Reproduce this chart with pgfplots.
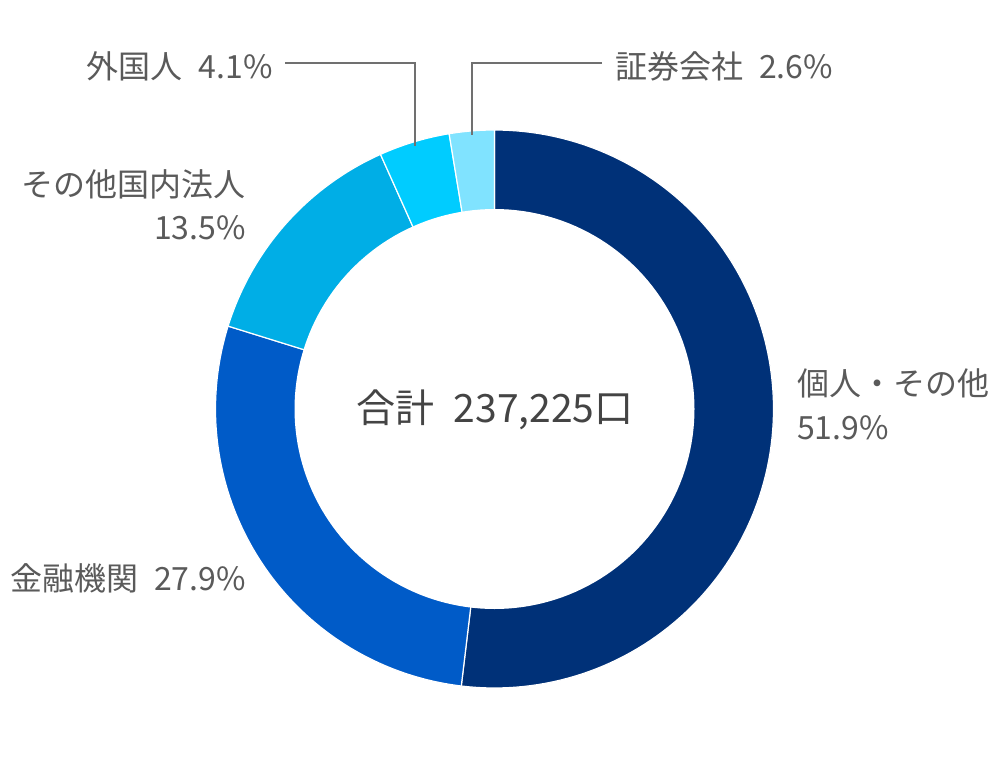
\documentclass[border=0pt]{standalone}
\usepackage{pgfplots}
\pgfplotsset{compat=1.18}
\usepackage{fontspec}
\setmainfont{Noto Sans CJK JP}
\definecolor{cNavy}{HTML}{003178}
\definecolor{cBlue}{HTML}{005BC8}
\definecolor{cSky}{HTML}{00AEE6}
\definecolor{cCyan}{HTML}{00CCFF}
\definecolor{cPale}{HTML}{80E3FF}
\definecolor{txt}{HTML}{5A5A5A}
\definecolor{ctr}{HTML}{444444}
\definecolor{lead}{HTML}{707070}
% data (percent)
\def\vA{51.9}\def\vB{27.9}\def\vC{13.5}\def\vD{4.1}\def\vE{2.6}
\pgfmathsetmacro\aA{0}
\pgfmathsetmacro\aB{\aA+3.6*\vA}
\pgfmathsetmacro\aC{\aB+3.6*\vB}
\pgfmathsetmacro\aD{\aC+3.6*\vC}
\pgfmathsetmacro\aE{\aD+3.6*\vD}
\pgfmathsetmacro\aF{\aE+3.6*\vE}
\def\cx{494.5}\def\cy{409}\def\Ro{279}\def\Ri{200}
\begin{document}
\begin{tikzpicture}
\path (0,0) rectangle (990pt,770pt);
\begin{axis}[
  scale only axis, width=990pt, height=770pt,
  xmin=0, xmax=990, ymin=0, ymax=770, y dir=reverse,
  hide axis, clip=false,
]
\addplot[fill=cNavy, draw=white, line width=1.2pt, domain=\aA:\aB, samples=120, variable=\t]
  ({\cx+\Ro*sin(\t)}, {\cy-\Ro*cos(\t)}) -- (axis cs:\cx,\cy) -- cycle;
\addplot[fill=cBlue, draw=white, line width=1.2pt, domain=\aB:\aC, samples=80, variable=\t]
  ({\cx+\Ro*sin(\t)}, {\cy-\Ro*cos(\t)}) -- (axis cs:\cx,\cy) -- cycle;
\addplot[fill=cSky, draw=white, line width=1.2pt, domain=\aC:\aD, samples=50, variable=\t]
  ({\cx+\Ro*sin(\t)}, {\cy-\Ro*cos(\t)}) -- (axis cs:\cx,\cy) -- cycle;
\addplot[fill=cCyan, draw=white, line width=1.2pt, domain=\aD:\aE, samples=20, variable=\t]
  ({\cx+\Ro*sin(\t)}, {\cy-\Ro*cos(\t)}) -- (axis cs:\cx,\cy) -- cycle;
\addplot[fill=cPale, draw=white, line width=1.2pt, domain=\aE:\aF, samples=20, variable=\t]
  ({\cx+\Ro*sin(\t)}, {\cy-\Ro*cos(\t)}) -- (axis cs:\cx,\cy) -- cycle;
\addplot[fill=white, draw=none, domain=0:360, samples=181, variable=\t]
  ({\cx+\Ri*sin(\t)}, {\cy-\Ri*cos(\t)}) -- cycle;
% leader lines
\draw[lead, line width=1.4pt] (axis cs:285,63) -- (axis cs:415,63) -- (axis cs:415,146);
\draw[lead, line width=1.4pt] (axis cs:602,63) -- (axis cs:472,63) -- (axis cs:472,135);
% labels
\begin{scope}[every node/.style={inner sep=0pt, text=txt, font=\fontsize{32}{38}\selectfont}]
\node[anchor=east] at (axis cs:273,66) {外国人\hspace{0.5em}4.1\%};
\node[anchor=west] at (axis cs:615,66) {証券会社\hspace{0.5em}2.6\%};
\node[anchor=east] at (axis cs:246,184) {その他国内法人};
\node[anchor=east] at (axis cs:246,228) {13.5\%};
\node[anchor=west] at (axis cs:797,383) {個人・その他};
\node[anchor=west] at (axis cs:797,428) {51.9\%};
\node[anchor=east] at (axis cs:246,578) {金融機関\hspace{0.5em}27.9\%};
\end{scope}
\node[inner sep=0pt, text=ctr, font=\fontsize{39}{46}\selectfont] at (axis cs:495,410) {合計\hspace{0.5em}237,225口};
\end{axis}
\end{tikzpicture}
\end{document}
